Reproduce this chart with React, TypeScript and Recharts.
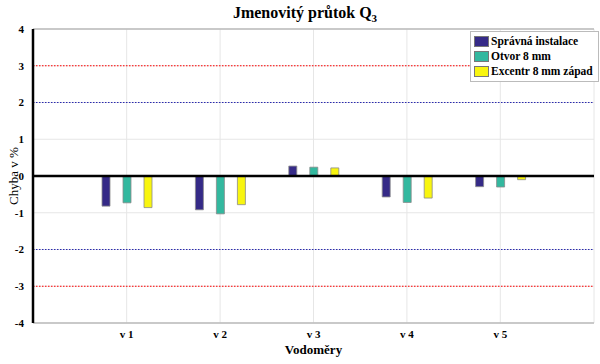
import React from 'react';
import { BarChart, Bar, XAxis, YAxis, CartesianGrid, ReferenceLine, Legend } from 'recharts';

const categories = ['v 1', 'v 2', 'v 3', 'v 4', 'v 5'];
const spravna = [-0.82, -0.92, 0.27, -0.57, -0.29];
const otvor = [-0.73, -1.03, 0.24, -0.72, -0.3];
const excentr = [-0.86, -0.78, 0.22, -0.6, -0.1];
const yTicks = [-4, -3, -2, -1, 0, 1, 2, 3, 4];

const series = [
  { key: 'spravna', name: 'Správná instalace', color: '#352a87' },
  { key: 'otvor', name: 'Otvor 8 mm', color: '#33b89f' },
  { key: 'excentr', name: 'Excentr 8 mm západ', color: '#f8f50f' },
];

const data = categories.map((c, i) => ({
  name: c,
  spravna: spravna[i],
  otvor: otvor[i],
  excentr: excentr[i],
}));

const FONT = '"Liberation Serif", "Times New Roman", serif';

function LegendBox() {
  return (
    <div
      style={{
        border: '1.5px solid #bbb',
        background: '#fff',
        padding: '2px 5px 2px 3px',
        fontFamily: FONT,
        fontWeight: 700,
        fontSize: 11.5,
        lineHeight: '15px',
        color: '#000',
        textAlign: 'left',
      }}
    >
      {series.map(s => (
        <div key={s.key} style={{ display: 'flex', alignItems: 'center' }}>
          <span
            style={{
              display: 'inline-block',
              width: 15,
              height: 11,
              background: s.color,
              border: '1px solid #777',
              marginRight: 2,
              boxSizing: 'border-box',
            }}
          />
          {s.name}
        </div>
      ))}
    </div>
  );
}

export default function App() {
  return (
    <div style={{ position: 'absolute', left: 0, top: 0, width: 600, height: 364, background: '#fff' }}>
      <BarChart
        width={600}
        height={364}
        data={data}
        margin={{ top: 29, right: 6, left: 0, bottom: 0 }}
        barSize={8}
        barGap={13}
      >
        <text x={305} y={18} textAnchor="middle" fontFamily={FONT} fontWeight={700} fontSize={16} fill="#000">
          Jmenovitý průtok Q
          <tspan fontSize={11} dy={4}>3</tspan>
        </text>
        <CartesianGrid stroke="#e6e6e6" strokeWidth={1} />
        <XAxis
          dataKey="name"
          height={41}
          padding={{ left: 47, right: 47 }}
          tickLine={false}
          axisLine={{ stroke: '#bbb', strokeWidth: 1.5 }}
          tick={{ fontFamily: FONT, fontWeight: 700, fontSize: 11, fill: '#000' }}
          tickMargin={1}
          label={{
            value: 'Vodoměry',
            position: 'insideBottom',
            offset: 10,
            fontFamily: FONT,
            fontWeight: 700,
            fontSize: 13,
            fill: '#000',
          }}
        />
        <YAxis
          width={33}
          domain={[-4, 4]}
          ticks={yTicks}
          interval={0}
          tickLine={false}
          axisLine={{ stroke: '#000', strokeWidth: 2.5 }}
          tick={{ fontFamily: FONT, fontWeight: 700, fontSize: 11, fill: '#000' }}
          tickMargin={3}
          label={{
            value: 'Chyba v %',
            angle: -90,
            position: 'insideLeft',
            offset: 13,
            style: { textAnchor: 'middle' },
            fontFamily: FONT,
            fontSize: 13,
            fill: '#000',
          }}
        />
        <YAxis
          yAxisId="r"
          orientation="right"
          width={0}
          domain={[-4, 4]}
          tick={false}
          tickLine={false}
          axisLine={{ stroke: '#bbb', strokeWidth: 1.5 }}
        />
        <ReferenceLine y={4} stroke="#bbb" strokeWidth={1.5} />
        <ReferenceLine y={3} stroke="#ff0000" strokeDasharray="1.5 1.5" strokeWidth={1.2} />
        <ReferenceLine y={-3} stroke="#ff0000" strokeDasharray="1.5 1.5" strokeWidth={1.2} />
        <ReferenceLine y={2} stroke="#2a2ab0" strokeDasharray="1.5 1.5" strokeWidth={1.2} />
        <ReferenceLine y={-2} stroke="#2a2ab0" strokeDasharray="1.5 1.5" strokeWidth={1.2} />
        <Legend
          layout="vertical"
          align="center"
          verticalAlign="middle"
          content={<LegendBox />}
          wrapperStyle={{ position: 'absolute', left: 470, top: 31, width: 'auto', height: 'auto' }}
        />
        {series.map(s => (
          <Bar
            key={s.key}
            dataKey={s.key}
            name={s.name}
            fill={s.color}
            stroke="#8a8a8a"
            strokeWidth={0.8}
            isAnimationActive={false}
          />
        ))}
        <ReferenceLine y={0} stroke="#000" strokeWidth={2.5} />
      </BarChart>
    </div>
  );
}
